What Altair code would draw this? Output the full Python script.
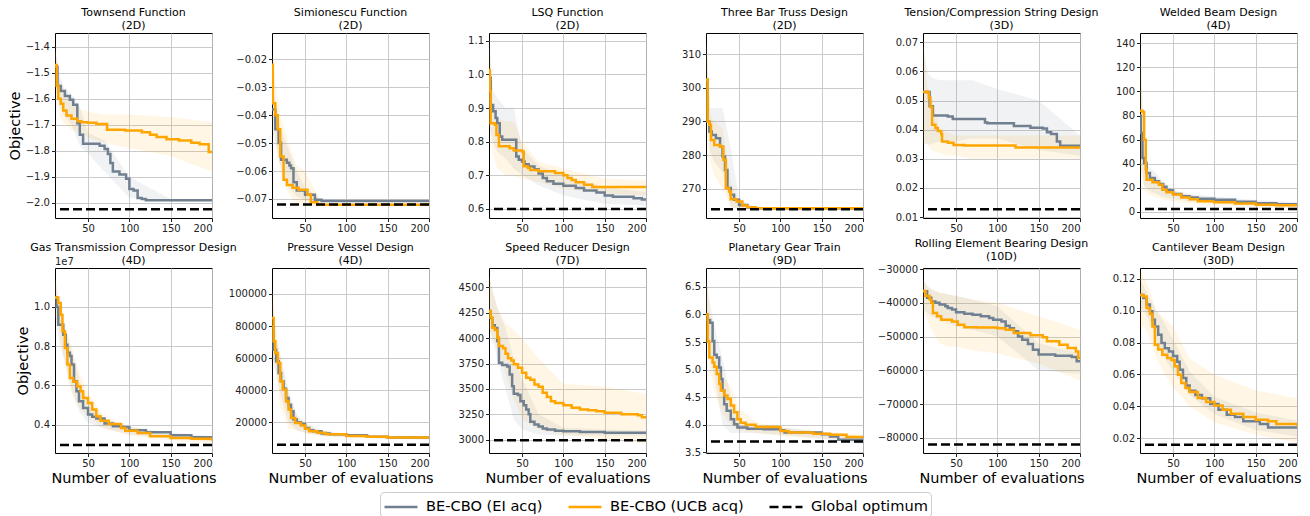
import altair as alt
import pandas as pd

EI = "BE-CBO (EI acq)"
UCB = "BE-CBO (UCB acq)"
OPT = "Global optimum"
GREY = "#708090"
ORANGE = "#FFA500"

# evaluation counts at which the +/- spread bands are sampled
BAND_X = [10, 15, 20, 30, 40, 50, 70, 100, 150, 200]

# ---- Townsend Function (2D)
TW_EI_X = [10, 13, 17, 22, 28, 32, 37, 40, 44, 64, 70, 74, 77, 80, 88, 96, 100, 105, 110, 115, 120, 200]
TW_EI_Y = [-1.477, -1.551, -1.57, -1.589, -1.604, -1.623, -1.694, -1.738, -1.773, -1.78, -1.793, -1.812,
           -1.847, -1.879, -1.891, -1.907, -1.947, -1.952, -1.981, -1.985, -1.99, -1.99]
TW_UCB_X = [10, 12, 14, 17, 20, 24, 30, 37, 42, 50, 60, 73, 95, 115, 125, 133, 145, 160, 175, 185, 196, 200]
TW_UCB_Y = [-1.47, -1.55, -1.60, -1.619, -1.645, -1.664, -1.677, -1.686, -1.69, -1.692, -1.697, -1.719,
            -1.722, -1.728, -1.738, -1.747, -1.755, -1.76, -1.769, -1.775, -1.804, -1.804]
TW_EI_LO = [-1.55, -1.62, -1.66, -1.70, -1.78, -1.81, -1.88, -1.98, -1.995, -1.995]
TW_EI_HI = [-1.40, -1.50, -1.55, -1.58, -1.63, -1.73, -1.76, -1.90, -1.985, -1.985]
TW_UCB_LO = [-1.55, -1.66, -1.69, -1.72, -1.73, -1.75, -1.77, -1.79, -1.82, -1.88]
TW_UCB_HI = [-1.40, -1.52, -1.56, -1.60, -1.64, -1.65, -1.66, -1.66, -1.67, -1.69]
TW_OPT = -2.0239

# ---- Simionescu Function (2D)
SI_EI_X = [10, 14, 18, 21, 28, 31, 33, 36, 40, 50, 62, 70, 200]
SI_EI_Y = [-0.038, -0.045, -0.05, -0.056, -0.057, -0.058, -0.059, -0.064, -0.067, -0.0685, -0.0703, -0.0707, -0.0707]
SI_UCB_X = [10, 11, 14, 17, 20, 24, 28, 35, 42, 53, 57, 65, 200]
SI_UCB_Y = [-0.022, -0.0357, -0.040, -0.045, -0.0548, -0.0631, -0.065, -0.066, -0.0667, -0.0685, -0.0712, -0.0721, -0.0721]
SI_EI_LO = [-0.045, -0.052, -0.058, -0.066, -0.069, -0.0705, -0.0711, -0.0711, -0.071, -0.071]
SI_EI_HI = [-0.030, -0.036, -0.045, -0.052, -0.060, -0.066, -0.0702, -0.0704, -0.0705, -0.0705]
SI_UCB_LO = [-0.040, -0.050, -0.060, -0.068, -0.072, -0.0726, -0.0724, -0.0723, -0.0723, -0.0723]
SI_UCB_HI = [-0.018, -0.030, -0.040, -0.050, -0.058, -0.060, -0.0715, -0.0718, -0.0718, -0.0718]
SI_OPT = -0.072

# ---- LSQ Function (2D)
LSQ_EI_X = [10, 12, 15, 18, 20, 23, 26, 43, 46, 50, 53, 58, 65, 70, 75, 80, 88, 100, 115, 125, 140, 150, 160, 185, 195, 200]
LSQ_EI_Y = [0.99, 0.909, 0.89, 0.87, 0.855, 0.815, 0.806, 0.756, 0.746, 0.741, 0.733, 0.726, 0.718, 0.705, 0.692,
            0.682, 0.675, 0.669, 0.662, 0.655, 0.649, 0.64, 0.636, 0.632, 0.628, 0.628]
LSQ_UCB_X = [10, 11, 12, 17, 19, 22, 35, 40, 50, 52, 57, 60, 70, 90, 100, 105, 110, 115, 125, 135, 200]
LSQ_UCB_Y = [1.013, 0.95, 0.855, 0.85, 0.82, 0.786, 0.78, 0.774, 0.771, 0.727, 0.722, 0.716, 0.712, 0.707, 0.70,
             0.692, 0.686, 0.679, 0.672, 0.665, 0.663]
LSQ_EI_LO = [0.85, 0.80, 0.77, 0.75, 0.72, 0.70, 0.67, 0.64, 0.615, 0.61]
LSQ_EI_HI = [1.12, 0.95, 0.93, 0.90, 0.90, 0.78, 0.73, 0.70, 0.665, 0.65]
LSQ_UCB_LO = [0.85, 0.76, 0.72, 0.70, 0.70, 0.69, 0.68, 0.66, 0.645, 0.64]
LSQ_UCB_HI = [1.12, 0.90, 0.87, 0.86, 0.86, 0.80, 0.74, 0.72, 0.69, 0.685]
LSQ_OPT = 0.6

# ---- Three Bar Truss Design (2D)
TB_EI_X = [10, 12, 14, 17, 22, 27, 30, 33, 36, 40, 44, 50, 60, 70, 200]
TB_EI_Y = [302.4, 290, 287, 286, 285, 282.5, 279.6, 275.6, 270.2, 268.2, 266.7, 265.2, 264.4, 264.2, 264.0]
TB_UCB_X = [10, 12, 14, 16, 20, 27, 31, 34, 38, 40, 47, 54, 60, 70, 200]
TB_UCB_Y = [302.4, 290, 289, 284.5, 283, 282.5, 278.6, 270.2, 269.2, 266.9, 266.2, 265, 264.5, 264.2, 264.0]
TB_EI_LO = [295, 281, 278, 275, 264.5, 264, 263.8, 263.8, 263.9, 263.9]
TB_EI_HI = [315, 294, 294, 294, 282, 267, 264.6, 264.4, 264.2, 264.1]
TB_UCB_LO = [290, 278, 274, 270, 264.5, 264, 263.8, 263.8, 263.9, 263.9]
TB_UCB_HI = [315, 292, 290, 288, 272, 266, 264.5, 264.3, 264.2, 264.1]
TB_OPT = 263.9

# ---- Tension/Compression String Design (3D)
TC_EI_X = [10, 18, 22, 40, 46, 85, 88, 120, 140, 155, 160, 165, 172, 176, 200]
TC_EI_Y = [0.0529, 0.048, 0.0449, 0.0445, 0.0437, 0.0425, 0.0422, 0.0413, 0.0407, 0.0404, 0.0391, 0.0385,
           0.0359, 0.0345, 0.0344]
TC_UCB_X = [10, 15, 17, 19, 21, 25, 28, 32, 33, 40, 47, 60, 122, 200]
TC_UCB_Y = [0.053, 0.0528, 0.051, 0.0478, 0.0417, 0.0406, 0.0395, 0.0385, 0.0359, 0.0355, 0.0347, 0.0346, 0.0339, 0.0338]
TC_EI_LO = [0.035, 0.035, 0.035, 0.036, 0.036, 0.036, 0.037, 0.037, 0.033, 0.031]
TC_EI_HI = [0.070, 0.060, 0.058, 0.057, 0.057, 0.057, 0.057, 0.054, 0.050, 0.038]
TC_UCB_LO = [0.036, 0.035, 0.033, 0.032, 0.031, 0.031, 0.030, 0.030, 0.030, 0.030]
TC_UCB_HI = [0.071, 0.055, 0.052, 0.040, 0.039, 0.038, 0.038, 0.038, 0.038, 0.038]
TC_OPT = 0.0127

# ---- Welded Beam Design (4D)
WB_EI_X = [10, 11, 13, 15, 18, 22, 28, 33, 38, 42, 50, 60, 70, 80, 100, 125, 150, 175, 200]
WB_EI_Y = [79.8, 65.5, 44.8, 40.6, 32.3, 28.2, 25.5, 23.2, 21, 18, 14.9, 13, 12, 11, 10.2, 8.5, 7.3, 6.5, 6.1]
WB_UCB_X = [10, 13, 15, 17, 18, 25, 33, 37, 42, 50, 60, 70, 80, 100, 125, 150, 175, 200]
WB_UCB_Y = [84, 83, 60, 35, 26.8, 24.6, 22.5, 18.5, 16.3, 14.5, 12, 10.5, 8.8, 8, 7, 6, 5.5, 4.7]
WB_EI_LO = [40, 22, 18, 15, 12, 11, 9, 7.5, 5.5, 4.5]
WB_EI_HI = [140, 60, 38, 32, 24, 18, 15, 13, 10, 8]
WB_UCB_LO = [40, 18, 15, 12, 10, 9, 7, 5.5, 4, 3]
WB_UCB_HI = [145, 50, 32, 28, 22, 17, 14, 11, 8.5, 7]
WB_OPT = 2.38

# ---- Gas Transmission Compressor Design (4D), values in units of 1e7
GT_EI_X = [10, 12, 14, 20, 23, 25, 28, 30, 33, 36, 39, 44, 50, 55, 60, 70, 80, 90, 100, 120, 150, 175, 200]
GT_EI_Y = [1.049, 1.0, 0.91, 0.859, 0.808, 0.766, 0.75, 0.706, 0.621, 0.57, 0.519, 0.485, 0.451, 0.44, 0.431,
           0.405, 0.392, 0.386, 0.371, 0.361, 0.345, 0.335, 0.329]
GT_UCB_X = [10, 14, 17, 19, 22, 25, 28, 32, 37, 41, 44, 50, 55, 60, 65, 75, 90, 95, 110, 125, 150, 175, 200]
GT_UCB_Y = [1.049, 1.02, 0.961, 0.876, 0.791, 0.706, 0.638, 0.618, 0.595, 0.57, 0.536, 0.51, 0.477, 0.443, 0.42,
            0.403, 0.383, 0.368, 0.357, 0.34, 0.332, 0.328, 0.318]
GT_EI_LO = [0.95, 0.82, 0.75, 0.58, 0.46, 0.41, 0.38, 0.35, 0.33, 0.315]
GT_EI_HI = [1.15, 1.0, 0.92, 0.78, 0.62, 0.52, 0.43, 0.39, 0.36, 0.34]
GT_UCB_LO = [0.95, 0.90, 0.75, 0.56, 0.48, 0.44, 0.38, 0.345, 0.32, 0.305]
GT_UCB_HI = [1.15, 1.05, 0.95, 0.80, 0.66, 0.56, 0.44, 0.39, 0.35, 0.335]
GT_OPT = 0.2964

# ---- Pressure Vessel Design (4D)
PV_EI_X = [10, 12, 15, 18, 21, 24, 27, 30, 33, 36, 40, 45, 50, 55, 60, 70, 80, 100, 125, 150, 200]
PV_EI_Y = [79800, 65300, 58000, 50700, 45600, 41000, 35200, 31000, 26900, 21700, 20000, 19000, 16500, 15000,
           14400, 13000, 12500, 11900, 11000, 10500, 10000]
PV_UCB_X = [10, 12, 14, 17, 20, 23, 27, 30, 33, 38, 45, 50, 55, 65, 75, 100, 125, 150, 200]
PV_UCB_Y = [85000, 70500, 63200, 57000, 45600, 40400, 33000, 28000, 22700, 19600, 18000, 16000, 14500, 13500,
            12500, 11500, 11000, 10500, 9800]
PV_EI_LO = [60000, 50000, 38000, 20000, 15000, 13500, 11500, 11000, 9800, 9400]
PV_EI_HI = [100000, 72000, 62000, 40000, 25000, 20000, 15000, 12800, 11200, 10600]
PV_UCB_LO = [62000, 52000, 30000, 16000, 15000, 13000, 11500, 10800, 9800, 9200]
PV_UCB_HI = [105000, 78000, 62000, 38000, 24000, 19000, 14500, 12500, 11200, 10500]
PV_OPT = 6059.7

# ---- Speed Reducer Design (7D)
SR_EI_X = [10, 12, 14, 17, 20, 22, 26, 32, 35, 38, 40, 45, 48, 52, 55, 58, 60, 65, 70, 75, 80, 90, 100, 120, 150, 200]
SR_EI_Y = [4269, 4200, 4127, 4100, 3972, 3758, 3735, 3720, 3643, 3527, 3451, 3440, 3379, 3340, 3297, 3250, 3175,
           3148, 3130, 3110, 3099, 3088, 3082, 3075, 3068, 3066]
SR_UCB_X = [10, 12, 14, 17, 20, 22, 27, 30, 33, 37, 40, 45, 50, 55, 60, 65, 70, 75, 80, 85, 90, 100, 110, 120,
            130, 140, 150, 170, 190, 195, 200]
SR_UCB_Y = [4269, 4203, 4104, 4080, 4005, 3923, 3900, 3847, 3801, 3780, 3742, 3709, 3659, 3610, 3590, 3544, 3520,
            3461, 3420, 3379, 3360, 3339, 3313, 3297, 3290, 3280, 3264, 3250, 3240, 3221, 3215]
SR_EI_LO = [4100, 3950, 3800, 3500, 3200, 3100, 3050, 3040, 3040, 3040]
SR_EI_HI = [4620, 4450, 4300, 4100, 3800, 3600, 3250, 3120, 3100, 3090]
SR_UCB_LO = [4100, 4000, 3900, 3650, 3400, 3200, 3100, 3050, 3000, 2960]
SR_UCB_HI = [4620, 4450, 4300, 4150, 4080, 4000, 3800, 3550, 3520, 3450]
SR_OPT = 2994.4

# ---- Planetary Gear Train (9D)
PG_EI_X = [10, 12, 15, 18, 20, 23, 26, 28, 30, 32, 35, 40, 44, 48, 60, 80, 100, 105, 150, 160, 170, 200]
PG_EI_Y = [6.0, 5.9, 5.85, 5.52, 5.27, 5.22, 5.04, 4.83, 4.62, 4.375, 4.255, 4.10, 4.01, 3.95, 3.93, 3.92, 3.90,
           3.86, 3.83, 3.79, 3.73, 3.72]
PG_UCB_X = [10, 12, 14, 18, 20, 23, 26, 28, 32, 36, 40, 44, 48, 52, 58, 70, 100, 110, 140, 160, 180, 200]
PG_UCB_Y = [6.0, 5.52, 5.22, 5.13, 5.05, 4.92, 4.74, 4.62, 4.53, 4.47, 4.35, 4.23, 4.10, 4.04, 4.0, 3.96, 3.89,
            3.86, 3.84, 3.82, 3.78, 3.76]
PG_EI_LO = [5.6, 5.2, 4.9, 4.0, 3.85, 3.85, 3.85, 3.82, 3.75, 3.65]
PG_EI_HI = [6.7, 6.2, 5.8, 5.2, 4.5, 4.0, 3.98, 3.96, 3.88, 3.78]
PG_UCB_LO = [5.6, 5.0, 4.6, 4.2, 4.0, 3.9, 3.85, 3.8, 3.76, 3.70]
PG_UCB_HI = [6.7, 6.0, 5.5, 4.9, 4.7, 4.3, 4.05, 3.95, 3.88, 3.82]
PG_OPT = 3.70

# ---- Rolling Element Bearing Design (10D)
RB_EI_X = [10, 15, 20, 25, 30, 37, 40, 45, 50, 60, 70, 80, 90, 95, 105, 110, 115, 120, 125, 130, 137, 143, 150,
           170, 190, 196, 200]
RB_EI_Y = [-36600, -38500, -39600, -40000, -40500, -41000, -41500, -42000, -42800, -43200, -43500, -44000, -44500,
           -45000, -45500, -46800, -47500, -48400, -50000, -50900, -52200, -53900, -55300, -55700, -56000, -57300,
           -57500]
RB_UCB_X = [10, 13, 18, 20, 22, 27, 32, 45, 52, 60, 75, 100, 110, 120, 140, 155, 160, 175, 185, 195, 198, 200]
RB_UCB_Y = [-36500, -38000, -39000, -40000, -43000, -44000, -45000, -45500, -46500, -47200, -47300, -47500, -48000,
            -48900, -49600, -50200, -51400, -52400, -53400, -54400, -56300, -56500]
RB_EI_LO = [-42000, -43000, -44000, -45000, -46000, -47000, -48000, -50000, -60000, -61000]
RB_EI_HI = [-33000, -35000, -36000, -37000, -37500, -38000, -39000, -41000, -52000, -55000]
RB_UCB_LO = [-42000, -45000, -48000, -52000, -53000, -53000, -54000, -55000, -58000, -63000]
RB_UCB_HI = [-33000, -35000, -36000, -37000, -37500, -38000, -39000, -40000, -44000, -48000]
RB_OPT = -81960

# ---- Cantilever Beam Design (30D)
CB_EI_X = [10, 14, 18, 22, 25, 28, 32, 36, 40, 45, 50, 55, 58, 62, 66, 70, 77, 85, 95, 105, 115, 125, 135, 155,
           165, 200]
CB_EI_Y = [0.110, 0.108, 0.104, 0.0997, 0.0944, 0.0902, 0.085, 0.0797, 0.0765, 0.0744, 0.0716, 0.068, 0.063,
           0.0577, 0.053, 0.0498, 0.047, 0.045, 0.0414, 0.0378, 0.0347, 0.0332, 0.0305, 0.0288, 0.0267, 0.0263]
CB_UCB_X = [10, 14, 18, 22, 25, 28, 32, 37, 43, 48, 52, 56, 60, 65, 70, 80, 90, 100, 110, 120, 135, 150, 165,
            175, 200]
CB_UCB_Y = [0.110, 0.109, 0.1018, 0.098, 0.0902, 0.0787, 0.0756, 0.0724, 0.0703, 0.069, 0.0651, 0.0598, 0.0546,
            0.0514, 0.049, 0.0452, 0.0426, 0.0405, 0.0378, 0.0353, 0.0332, 0.0315, 0.0305, 0.0288, 0.0273]
CB_EI_LO = [0.10, 0.10, 0.095, 0.082, 0.07, 0.062, 0.047, 0.035, 0.025, 0.021]
CB_EI_HI = [0.12, 0.115, 0.11, 0.10, 0.092, 0.082, 0.062, 0.046, 0.036, 0.031]
CB_UCB_LO = [0.09, 0.09, 0.085, 0.07, 0.06, 0.052, 0.04, 0.03, 0.022, 0.017]
CB_UCB_HI = [0.126, 0.12, 0.115, 0.10, 0.095, 0.09, 0.07, 0.06, 0.05, 0.045]
CB_OPT = 0.0158

# panel titles, series and axis settings
PANELS = [
    (["Townsend Function", "(2D)"], TW_EI_X, TW_EI_Y, TW_UCB_X, TW_UCB_Y,
     TW_EI_LO, TW_EI_HI, TW_UCB_LO, TW_UCB_HI, TW_OPT,
     [-2.058, -1.347], [-2.0, -1.9, -1.8, -1.7, -1.6, -1.5, -1.4], ".1f"),
    (["Simionescu Function", "(2D)"], SI_EI_X, SI_EI_Y, SI_UCB_X, SI_UCB_Y,
     SI_EI_LO, SI_EI_HI, SI_UCB_LO, SI_UCB_HI, SI_OPT,
     [-0.0768, -0.0106], [-0.07, -0.06, -0.05, -0.04, -0.03, -0.02], ".2f"),
    (["LSQ Function", "(2D)"], LSQ_EI_X, LSQ_EI_Y, LSQ_UCB_X, LSQ_UCB_Y,
     LSQ_EI_LO, LSQ_EI_HI, LSQ_UCB_LO, LSQ_UCB_HI, LSQ_OPT,
     [0.573, 1.123], [0.6, 0.7, 0.8, 0.9, 1.0, 1.1], ".1f"),
    (["Three Bar Truss Design", "(2D)"], TB_EI_X, TB_EI_Y, TB_UCB_X, TB_UCB_Y,
     TB_EI_LO, TB_EI_HI, TB_UCB_LO, TB_UCB_HI, TB_OPT,
     [261.3, 316.3], [270, 280, 290, 300, 310], "d"),
    (["Tension/Compression String Design", "(3D)"], TC_EI_X, TC_EI_Y, TC_UCB_X, TC_UCB_Y,
     TC_EI_LO, TC_EI_HI, TC_UCB_LO, TC_UCB_HI, TC_OPT,
     [0.00966, 0.0732], [0.01, 0.02, 0.03, 0.04, 0.05, 0.06, 0.07], ".2f"),
    (["Welded Beam Design", "(4D)"], WB_EI_X, WB_EI_Y, WB_UCB_X, WB_UCB_Y,
     WB_EI_LO, WB_EI_HI, WB_UCB_LO, WB_UCB_HI, WB_OPT,
     [-5, 148.5], [0, 20, 40, 60, 80, 100, 120, 140], "d"),
    (["Gas Transmission Compressor Design", "(4D)"], GT_EI_X, GT_EI_Y, GT_UCB_X, GT_UCB_Y,
     GT_EI_LO, GT_EI_HI, GT_UCB_LO, GT_UCB_HI, GT_OPT,
     [0.255, 1.199], [0.4, 0.6, 0.8, 1.0], ".1f"),
    (["Pressure Vessel Design", "(4D)"], PV_EI_X, PV_EI_Y, PV_UCB_X, PV_UCB_Y,
     PV_EI_LO, PV_EI_HI, PV_UCB_LO, PV_UCB_HI, PV_OPT,
     [870, 116200], [20000, 40000, 60000, 80000, 100000], "d"),
    (["Speed Reducer Design", "(7D)"], SR_EI_X, SR_EI_Y, SR_UCB_X, SR_UCB_Y,
     SR_EI_LO, SR_EI_HI, SR_UCB_LO, SR_UCB_HI, SR_OPT,
     [2868, 4692], [3000, 3250, 3500, 3750, 4000, 4250, 4500], "d"),
    (["Planetary Gear Train", "(9D)"], PG_EI_X, PG_EI_Y, PG_UCB_X, PG_UCB_Y,
     PG_EI_LO, PG_EI_HI, PG_UCB_LO, PG_UCB_HI, PG_OPT,
     [3.49, 6.84], [3.5, 4.0, 4.5, 5.0, 5.5, 6.0, 6.5], ".1f"),
    (["Rolling Element Bearing Design", "(10D)"], RB_EI_X, RB_EI_Y, RB_UCB_X, RB_UCB_Y,
     RB_EI_LO, RB_EI_HI, RB_UCB_LO, RB_UCB_HI, RB_OPT,
     [-84440, -29700], [-80000, -70000, -60000, -50000, -40000, -30000], "d"),
    (["Cantilever Beam Design", "(30D)"], CB_EI_X, CB_EI_Y, CB_UCB_X, CB_UCB_Y,
     CB_EI_LO, CB_EI_HI, CB_UCB_LO, CB_UCB_HI, CB_OPT,
     [0.0106, 0.1269], [0.02, 0.04, 0.06, 0.08, 0.10, 0.12], ".2f"),
]

SERIES = [EI, UCB, OPT]
# legend key: a short horizontal stroke drawn wider than the entry height
LEGEND = alt.Legend(
    title=None, orient="none", legendX=325, legendY=459, direction="horizontal", columns=3,
    symbolType="M-1,0H2.3", symbolSize=400, symbolStrokeWidth=2.5, labelFontSize=14.6,
    labelFont="DejaVu Sans", labelColor="#000", columnPadding=20, labelOffset=20,
    strokeColor="#cccccc", padding=3, cornerRadius=4, fillColor="white",
)
COLOR = alt.Color("series:N", scale=alt.Scale(domain=SERIES, range=[GREY, ORANGE, "black"]), legend=LEGEND)
DASH = alt.StrokeDash("series:N", scale=alt.Scale(domain=SERIES, range=[[1, 0], [1, 0], [9, 4]]), legend=LEGEND)


def make_panel(idx, spec):
    (title, ei_x, ei_y, ucb_x, ucb_y, ei_lo, ei_hi, ucb_lo, ucb_hi, opt, ydom, yticks, fmt) = spec
    bottom = idx >= 6
    first_col = idx % 6 == 0

    x_axis = dict(values=[50, 100, 150, 200], title="Number of evaluations" if bottom else None,
                  titlePadding=3)
    y_axis = dict(values=yticks, format=fmt, title="Objective" if first_col else None, titlePadding=3)
    xs = alt.X("x:Q", scale=alt.Scale(domain=[10, 200], nice=False, zero=False), axis=alt.Axis(**x_axis))

    def ys(field):
        return alt.Y(field, type="quantitative", scale=alt.Scale(domain=ydom, nice=False, zero=False),
                     axis=alt.Axis(**y_axis))

    ei_df = pd.DataFrame({"x": ei_x, "y": ei_y, "series": EI})
    ucb_df = pd.DataFrame({"x": ucb_x, "y": ucb_y, "series": UCB})
    ei_band = pd.DataFrame({"x": BAND_X, "lo": ei_lo, "hi": ei_hi})
    ucb_band = pd.DataFrame({"x": BAND_X, "lo": ucb_lo, "hi": ucb_hi})
    opt_df = pd.DataFrame({"opt": [opt], "series": [OPT]})

    layers = [
        alt.Chart(ei_band).mark_area(color=GREY, opacity=0.1, clip=True).encode(
            x=xs, y=ys("lo"), y2="hi:Q"),
        alt.Chart(ucb_band).mark_area(color=ORANGE, opacity=0.1, clip=True).encode(
            x=xs, y=ys("lo"), y2="hi:Q"),
        alt.Chart(ei_df).mark_line(interpolate="step-after", strokeWidth=2.5, clip=True).encode(
            x=xs, y=ys("y"), color=COLOR, strokeDash=DASH),
        alt.Chart(ucb_df).mark_line(interpolate="step-after", strokeWidth=2.5, clip=True).encode(
            x=xs, y=ys("y"), color=COLOR, strokeDash=DASH),
        alt.Chart(opt_df).mark_rule(strokeWidth=2.5).encode(
            y=ys("opt"), color=COLOR, strokeDash=DASH),
    ]
    title_offset = 2
    if idx == 6:
        # scale factor of the tick labels, written above the y axis
        layers.append(
            alt.Chart(pd.DataFrame({"t": ["1e7"]})).mark_text(
                align="left", baseline="bottom", fontSize=10, font="DejaVu Sans", color="#222"
            ).encode(x=alt.value(0), y=alt.value(-1), text="t:N")
        )
        title_offset = -9
    return alt.layer(*layers).properties(
        width=157, height=185,
        title=alt.TitleParams(text=title, fontSize=11, font="DejaVu Sans", fontWeight="normal",
                              color="#000", offset=title_offset, lineHeight=13, anchor="middle",
                              frame="group"),
    )


panels = [make_panel(i, p) for i, p in enumerate(PANELS)]

chart = (
    alt.concat(*panels, columns=6, spacing={"row": 50, "column": 60}, bounds="flush")
    .resolve_scale(x="independent", y="independent")
    .properties(padding={"left": 6, "top": 6, "right": 5, "bottom": 5})
    .configure_view(stroke="black", strokeWidth=1)
    .configure_axis(
        labelFont="DejaVu Sans", labelFontSize=10, labelColor="#222", tickColor="#222",
        tickSize=3.5, domain=False, gridColor="#c4c4c4", gridWidth=0.9, labelPadding=2,
        titleFont="DejaVu Sans", titleFontSize=14.5, titleFontWeight="normal", titleColor="#000",
    )
)

chart.save("out.html", embed_options={"renderer": "svg", "actions": False})
